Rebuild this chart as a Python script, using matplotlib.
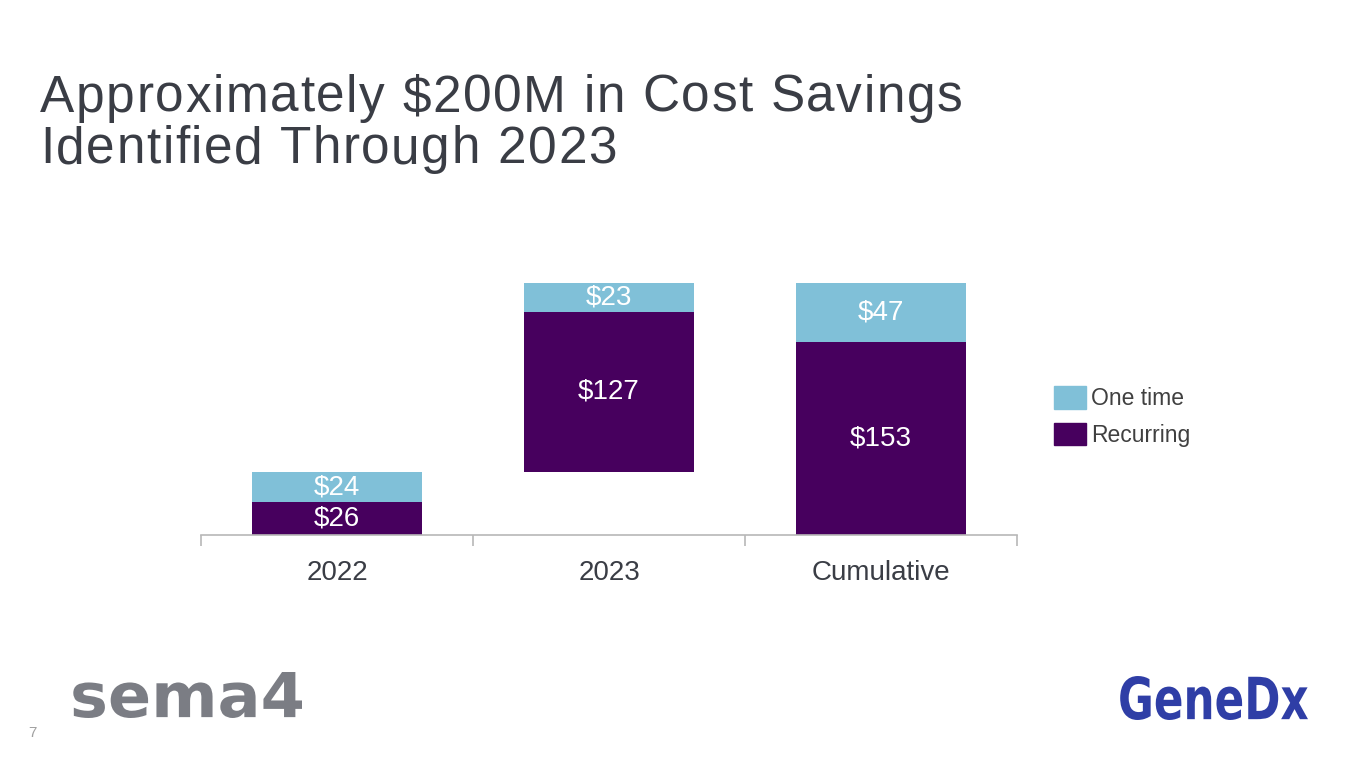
import numpy as np
import matplotlib
matplotlib.use("Agg")
import matplotlib.pyplot as plt
from matplotlib.patches import Patch, PathPatch
from matplotlib.textpath import TextPath
from matplotlib.font_manager import FontProperties
from matplotlib.path import Path

# waterfall data ($M)
categories = ["2022", "2023", "Cumulative"]
recurring = [26, 127, 153]
one_time = [24, 23, 47]
offset = [0, 50, 0]          # 2023 floats on top of 2022 total

PURPLE = "#47005e"
LIGHT = "#80c0d8"
DARK = "#3a3d45"
W, H = 1365, 768

plt.rcParams["font.family"] = ["Liberation Sans", "DejaVu Sans"]
fig = plt.figure(figsize=(W / 100, H / 100), dpi=100)
renderer = fig.canvas.get_renderer()


def tracked_text(x, y, s, track, **kw):
    # draw string char by char with extra letter spacing (pixels)
    probe = fig.text(0, 0, "", **kw)
    for i, ch in enumerate(s):
        probe.set_text(s[:i] if i else "")
        wpx = probe.get_window_extent(renderer).width if i else 0
        fig.text((x + wpx + i * track) / W, 1 - y / H, ch, va="baseline", **kw)
    probe.remove()


def logo(s, x0, x1, ytop, ybot, color, **fp):
    tp = TextPath((0, 0), s, size=50, prop=FontProperties(**fp))
    v = tp.vertices.copy()
    (bx0, by0), (bx1, by1) = v.min(0), v.max(0)
    v[:, 0] = x0 + (v[:, 0] - bx0) / (bx1 - bx0) * (x1 - x0)
    v[:, 1] = (H - ybot) + (v[:, 1] - by0) / (by1 - by0) * (ybot - ytop)
    v /= [W, H]
    fig.add_artist(PathPatch(Path(v, tp.codes), facecolor=color, edgecolor="none",
                             transform=fig.transFigure))


tracked_text(40, 112, "Approximately $200M in Cost Savings", 1.6, fontsize=37, color=DARK)
tracked_text(40, 163, "Identified Through 2023", 1.6, fontsize=37, color=DARK)

ax = fig.add_axes([201 / W, 1 - 535 / H, 816 / W, 252 / H])
x = np.arange(len(categories))
w = 0.625
rec_bot = np.array(offset)
one_bot = rec_bot + np.array(recurring)
ax.bar(x, recurring, w, bottom=rec_bot, color=PURPLE, clip_on=False, label="Recurring")
ax.bar(x, one_time, w, bottom=one_bot, color=LIGHT, clip_on=False, label="One time")

for i in range(len(categories)):
    ax.text(x[i], rec_bot[i] + recurring[i] / 2, f"${recurring[i]}", ha="center",
            va="center", color="white", fontsize=20)
    ax.text(x[i], one_bot[i] + one_time[i] / 2, f"${one_time[i]}", ha="center",
            va="center", color="white", fontsize=20)

ax.set_xlim(-0.5, len(categories) - 0.5)
ax.set_ylim(0, 200)
ax.set_yticks([])
for s in ["top", "right", "left"]:
    ax.spines[s].set_visible(False)
ax.spines["bottom"].set_color("#b8b8b8")
ax.spines["bottom"].set_linewidth(1.2)
ax.set_xticks(x)
ax.set_xticklabels(categories, fontsize=20, color=DARK)
ax.tick_params(axis="x", which="major", length=0, pad=18)
ax.set_xticks(np.arange(len(categories) + 1) - 0.5, minor=True)
ax.tick_params(axis="x", which="minor", length=8, width=1.2, color="#b8b8b8")

handles = [Patch(color=LIGHT, label="One time"), Patch(color=PURPLE, label="Recurring")]
fig.legend(handles=handles, loc="upper left", bbox_to_anchor=(1054 / W, 1 - 386 / H),
           frameon=False, fontsize=16.5, labelcolor="#404040", handlelength=1.4,
           handleheight=1.15, handletextpad=0.22, labelspacing=0.55, borderpad=0,
           borderaxespad=0)

# page number and logos (text approximations)
fig.text(28 / W, 1 - 737 / H, "7", fontsize=11, color="#a0a0a0", va="baseline")
logo("sema4", 70, 302, 672, 718, "#7b7d84", family="DejaVu Sans", weight="bold")
logo("GeneDx", 1118, 1308, 676, 720, "#2f3ea6", family="DejaVu Sans", weight="bold")

fig.savefig("out.png", dpi=100)
